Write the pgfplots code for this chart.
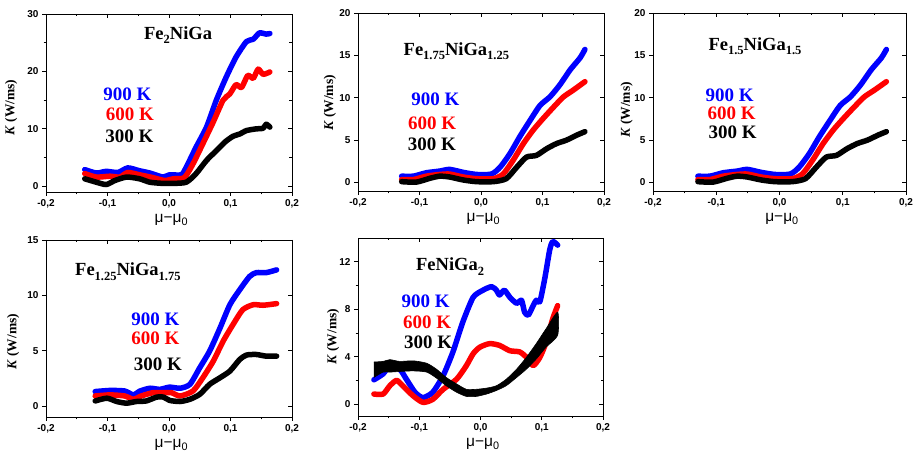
\documentclass[border=0pt]{standalone}
\usepackage{fontspec}
\setmainfont{Liberation Serif}
\setsansfont{Liberation Sans}
\usepackage{pgfplots}
\pgfplotsset{compat=1.18}

\newcommand\sub[1]{\raisebox{-0.55ex}{\fontsize{12.5}{13}\selectfont #1}}

\pgfplotsset{
  base/.style={
    scale only axis,
    xmin=-0.2, xmax=0.2,
    xtick={-0.2,-0.1,0,0.1,0.2},
    minor x tick num=1,
    axis line style={line width=0.8pt},
    major tick length=4pt, minor tick length=2.5pt,
    every tick/.style={line width=0.8pt, black},
  },
  panel/.style={
    base,
    tick align=outside,
    xtick pos=left, ytick pos=left,
    ticklabel style={font=\sffamily\bfseries\fontsize{10}{11}\selectfont},
    /pgf/number format/assume math mode=true,
    xticklabel style={/pgf/number format/fixed, /pgf/number format/fixed zerofill,
      /pgf/number format/precision=1, /pgf/number format/use comma},
    xlabel={μ−μ\textsubscript{0}},
    xlabel style={at={(axis description cs:0.51,-0.172)}, anchor=base,
      font=\sffamily\fontsize{15.5}{17}\selectfont},
    ylabel={\textit{K} (W/ms)},
    ylabel style={anchor=center, font=\bfseries\fontsize{13.5}{15}\selectfont},
  },
  mirror/.style={
    base,
    tick align=inside,
    xtick pos=right, ytick pos=right,
    xticklabels={}, yticklabels={},
    axis line style={draw=none},
  },
  curve/.style={line width=5.5pt, smooth, tension=0.4, line join=round, line cap=round},
}
\tikzset{
  tag/.style={anchor=base, font=\bfseries\fontsize{18.5}{20}\selectfont},
  temp/.style={anchor=base, font=\bfseries\fontsize{19}{21}\selectfont},
}

\begin{document}
\begin{tikzpicture}
\useasboundingbox (0pt,0pt) rectangle (919pt,455pt);

% ---------- Fe2NiGa ----------
\begin{axis}[panel, at={(46pt,263pt)}, anchor=south west, width=246pt, height=178pt,
  ymin=-1, ymax=30, ytick={0,10,20,30}, minor y tick num=1,
  ylabel style={at={(axis description cs:-0.142,0.475)}}]
\addplot[curve, blue] coordinates {
  (-0.137,2.9) (-0.118,2.3) (-0.102,2.6) (-0.083,2.4) (-0.067,3.2) (-0.048,2.7)
  (-0.031,2.3) (-0.010,1.6) (0.001,2.0) (0.020,2.0) (0.028,3.3) (0.044,6.8)
  (0.061,10.3) (0.077,15.0) (0.093,19.0) (0.109,22.5) (0.126,25.2) (0.137,25.6)
  (0.147,26.7) (0.158,26.5) (0.164,26.6)};
\addplot[curve, red] coordinates {
  (-0.137,2.2) (-0.118,1.6) (-0.096,1.75) (-0.080,1.6) (-0.067,2.4) (-0.048,2.0)
  (-0.026,1.5) (-0.007,1.0) (0.007,1.3) (0.025,1.5) (0.039,3.9) (0.055,7.4)
  (0.072,11.2) (0.088,15.0) (0.099,16.1) (0.109,17.7) (0.118,17.2) (0.128,19.3)
  (0.137,18.8) (0.145,20.4) (0.153,19.5) (0.164,19.9)};
\addplot[curve, black] coordinates {
  (-0.137,1.3) (-0.118,0.7) (-0.102,0.3) (-0.088,1.0) (-0.069,1.6) (-0.048,1.3)
  (-0.031,0.7) (-0.010,0.5) (0.007,0.5) (0.028,0.7) (0.044,2.2) (0.061,4.5)
  (0.077,6.2) (0.091,7.7) (0.104,8.7) (0.115,9.1) (0.126,9.7) (0.142,10.0)
  (0.153,10.1) (0.158,10.8) (0.164,10.3)};
\node[tag] at (rel axis cs:0.537,0.858) {Fe\sub{2}NiGa};
\node[temp, text=blue] at (rel axis cs:0.331,0.513) {900 K};
\node[temp, text=red] at (rel axis cs:0.341,0.400) {600 K};
\node[temp, text=black] at (rel axis cs:0.339,0.277) {300 K};
\end{axis}
\begin{axis}[mirror, at={(46pt,263pt)}, anchor=south west, width=246pt, height=178pt,
  ymin=-1, ymax=30, ytick={0,10,20,30}, minor y tick num=1]
\end{axis}

% ---------- Fe1.75NiGa1.25 ----------
\begin{axis}[panel, at={(358pt,264pt)}, anchor=south west, width=246pt, height=178pt,
  ymin=-1, ymax=20, ytick={0,5,10,15,20},
  ylabel style={at={(axis description cs:-0.114,0.494)}}]
\addplot[curve, blue] coordinates {
  (-0.129,0.75) (-0.110,0.75) (-0.089,1.15) (-0.067,1.35) (-0.051,1.55) (-0.029,1.2)
  (-0.007,0.95) (0.017,1.0) (0.031,1.8) (0.047,3.4) (0.063,5.4) (0.080,7.35)
  (0.096,9.1) (0.112,10.1) (0.128,11.5) (0.145,13.3) (0.161,14.7) (0.169,15.7)};
\addplot[curve, red] coordinates {
  (-0.129,0.35) (-0.110,0.35) (-0.089,0.75) (-0.067,0.95) (-0.051,1.0) (-0.029,0.65)
  (-0.007,0.45) (0.020,0.45) (0.036,1.0) (0.052,2.6) (0.069,4.6) (0.085,6.2)
  (0.101,7.55) (0.118,8.9) (0.134,10.1) (0.150,10.9) (0.169,11.9)};
\addplot[curve, black] coordinates {
  (-0.129,0.1) (-0.105,0.05) (-0.083,0.5) (-0.067,0.75) (-0.051,0.65) (-0.029,0.3)
  (-0.007,0.1) (0.020,0.1) (0.041,0.45) (0.058,1.8) (0.074,3.0) (0.090,3.2)
  (0.107,4.0) (0.123,4.6) (0.139,5.0) (0.156,5.6) (0.169,6.0)};
\node[tag] at (rel axis cs:0.40,0.764) {Fe\sub{1.75}NiGa\sub{1.25}};
\node[temp, text=blue] at (rel axis cs:0.315,0.478) {900 K};
\node[temp, text=red] at (rel axis cs:0.301,0.347) {600 K};
\node[temp, text=black] at (rel axis cs:0.300,0.226) {300 K};
\end{axis}
\begin{axis}[mirror, at={(358pt,264pt)}, anchor=south west, width=246pt, height=178pt,
  ymin=-1, ymax=20, ytick={0,5,10,15,20}]
\end{axis}

% ---------- Fe1.5NiGa1.5 ----------
\begin{axis}[panel, at={(653pt,264pt)}, anchor=south west, width=253pt, height=178pt,
  ymin=-1, ymax=20, ytick={0,5,10,15,20},
  ylabel style={at={(axis description cs:-0.104,0.455)}}]
\addplot[curve, blue] coordinates {
  (-0.129,0.75) (-0.110,0.75) (-0.089,1.15) (-0.067,1.35) (-0.051,1.55) (-0.029,1.2)
  (-0.007,0.95) (0.017,1.0) (0.031,1.8) (0.047,3.4) (0.063,5.4) (0.080,7.35)
  (0.096,9.1) (0.112,10.1) (0.128,11.5) (0.145,13.3) (0.161,14.7) (0.169,15.7)};
\addplot[curve, red] coordinates {
  (-0.129,0.35) (-0.110,0.35) (-0.089,0.75) (-0.067,0.95) (-0.051,1.0) (-0.029,0.65)
  (-0.007,0.45) (0.020,0.45) (0.036,1.0) (0.052,2.6) (0.069,4.6) (0.085,6.2)
  (0.101,7.55) (0.118,8.9) (0.134,10.1) (0.150,10.9) (0.169,11.9)};
\addplot[curve, black] coordinates {
  (-0.129,0.1) (-0.105,0.05) (-0.083,0.5) (-0.067,0.75) (-0.051,0.65) (-0.029,0.3)
  (-0.007,0.1) (0.020,0.1) (0.041,0.45) (0.058,1.8) (0.074,3.0) (0.090,3.2)
  (0.107,4.0) (0.123,4.6) (0.139,5.0) (0.156,5.6) (0.169,6.0)};
\node[tag] at (rel axis cs:0.403,0.792) {Fe\sub{1.5}NiGa\sub{1.5}};
\node[temp, text=blue] at (rel axis cs:0.303,0.502) {900 K};
\node[temp, text=red] at (rel axis cs:0.311,0.403) {600 K};
\node[temp, text=black] at (rel axis cs:0.315,0.296) {300 K};
\end{axis}
\begin{axis}[mirror, at={(653pt,264pt)}, anchor=south west, width=253pt, height=178pt,
  ymin=-1, ymax=20, ytick={0,5,10,15,20}]
\end{axis}

% ---------- Fe1.25NiGa1.75 ----------
\begin{axis}[panel, at={(46pt,38pt)}, anchor=south west, width=246pt, height=177pt,
  ymin=-1, ymax=15, ytick={0,5,10,15},
  ylabel style={at={(axis description cs:-0.134,0.425)}}]
\addplot[curve, blue] coordinates {
  (-0.120,1.3) (-0.096,1.4) (-0.072,1.35) (-0.058,1.0) (-0.047,1.35) (-0.031,1.6)
  (-0.015,1.5) (0.001,1.7) (0.018,1.6) (0.034,1.95) (0.050,3.45) (0.066,4.95)
  (0.083,7.05) (0.099,9.15) (0.115,10.5) (0.131,11.7) (0.142,12.05) (0.158,12.05)
  (0.175,12.3)};
\addplot[curve, red] coordinates {
  (-0.120,0.9) (-0.096,1.0) (-0.072,0.9) (-0.058,0.6) (-0.045,0.9) (-0.026,1.2)
  (-0.009,1.2) (0.004,1.2) (0.018,0.9) (0.039,1.35) (0.055,2.55) (0.072,4.05)
  (0.088,5.85) (0.104,7.35) (0.120,8.7) (0.137,9.15) (0.153,9.1) (0.175,9.25)};
\addplot[curve, black] coordinates {
  (-0.120,0.45) (-0.101,0.7) (-0.085,0.4) (-0.069,0.25) (-0.053,0.4) (-0.037,0.45)
  (-0.020,0.8) (-0.009,0.8) (0.001,0.5) (0.018,0.4) (0.034,0.6) (0.050,1.05)
  (0.066,1.95) (0.083,2.55) (0.099,3.15) (0.115,4.2) (0.126,4.6) (0.142,4.65)
  (0.158,4.5) (0.175,4.5)};
\node[tag] at (rel axis cs:0.333,0.798) {Fe\sub{1.25}NiGa\sub{1.75}};
\node[temp, text=blue] at (rel axis cs:0.445,0.516) {900 K};
\node[temp, text=red] at (rel axis cs:0.445,0.407) {600 K};
\node[temp, text=black] at (rel axis cs:0.455,0.262) {300 K};
\end{axis}
\begin{axis}[mirror, at={(46pt,38pt)}, anchor=south west, width=246pt, height=177pt,
  ymin=-1, ymax=15, ytick={0,5,10,15}]
\end{axis}

% ---------- FeNiGa2 ----------
\begin{axis}[panel, at={(358pt,39pt)}, anchor=south west, width=245pt, height=178pt,
  ymin=-1, ymax=14, ytick={0,4,8,12}, minor y tick num=1,
  ylabel style={at={(axis description cs:-0.102,0.445)}}]
\addplot[curve, blue] coordinates {
  (-0.174,2.05) (-0.159,2.55) (-0.148,3.25) (-0.132,2.95) (-0.121,2.1) (-0.107,1.0)
  (-0.094,0.55) (-0.078,1.0) (-0.061,2.4) (-0.045,4.4) (-0.029,6.9) (-0.012,9.0)
  (0.004,9.6) (0.018,9.9) (0.026,9.6) (0.031,9.2) (0.039,9.6) (0.048,9.0)
  (0.059,8.5) (0.067,8.75) (0.072,7.75) (0.078,7.5) (0.086,8.3) (0.091,8.75)
  (0.097,8.65) (0.105,10.6) (0.113,13.0) (0.118,13.7) (0.126,13.4)};
\addplot[curve, red] coordinates {
  (-0.174,0.85) (-0.159,0.85) (-0.148,1.55) (-0.137,2.0) (-0.127,1.55) (-0.110,0.7)
  (-0.094,0.15) (-0.078,0.4) (-0.061,1.25) (-0.039,2.1) (-0.023,3.25) (-0.012,4.25)
  (-0.001,4.8) (0.015,5.1) (0.031,4.95) (0.048,4.5) (0.064,4.4) (0.075,3.95)
  (0.086,3.25) (0.097,3.95) (0.107,5.2) (0.118,7.2) (0.126,8.3)};
\addplot[black, fill=black, line width=0.6pt, smooth, tension=0.4] coordinates {
  (-0.174,3.55) (-0.159,3.6) (-0.148,3.75) (-0.132,3.6) (-0.110,3.65) (-0.088,3.45)
  (-0.072,2.95) (-0.056,2.25) (-0.039,1.7) (-0.023,1.25) (-0.007,1.25) (0.010,1.35)
  (0.026,1.55) (0.042,2.1) (0.059,2.95) (0.075,3.95) (0.091,5.1) (0.107,6.35)
  (0.126,7.75)
  (0.126,5.8) (0.107,4.8) (0.091,3.8) (0.075,2.95) (0.059,2.25) (0.042,1.55)
  (0.026,1.15) (0.010,0.85) (-0.007,0.65) (-0.023,0.65) (-0.039,1.0) (-0.056,1.55)
  (-0.072,2.2) (-0.088,2.7) (-0.110,2.8) (-0.132,2.75) (-0.148,2.7) (-0.159,2.7)
  (-0.174,2.25)};
\node[tag] at (rel axis cs:0.376,0.815) {FeNiGa\sub{2}};
\node[temp, text=blue] at (rel axis cs:0.276,0.610) {900 K};
\node[temp, text=red] at (rel axis cs:0.282,0.489) {600 K};
\node[temp, text=black] at (rel axis cs:0.286,0.380) {300 K};
\end{axis}
\begin{axis}[mirror, at={(358pt,39pt)}, anchor=south west, width=245pt, height=178pt,
  ymin=-1, ymax=14, ytick={0,4,8,12}, minor y tick num=1]
\end{axis}

\end{tikzpicture}
\end{document}
